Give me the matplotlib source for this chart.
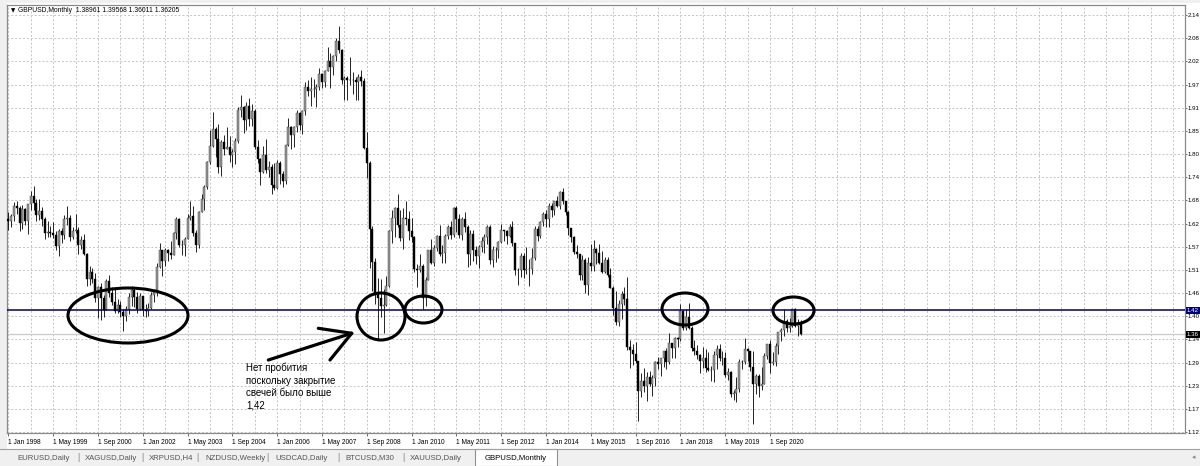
import numpy as np
import matplotlib.pyplot as plt
from matplotlib.patches import Ellipse, Rectangle
from matplotlib.lines import Line2D

plt.rcParams['font.family'] = ['Liberation Sans', 'DejaVu Sans']

# ---- GBPUSD monthly, Jan 1998 .. Aug 2021 (one row per year) ----
opens = [
    1.6440, 1.6390, 1.6500, 1.6760, 1.6700, 1.6340, 1.6690, 1.6390, 1.6800, 1.7000, 1.6830, 1.6530,
    1.6630, 1.6450, 1.6090, 1.6120, 1.6100, 1.6050, 1.5770, 1.6150, 1.6040, 1.6450, 1.6470, 1.5990,
    1.6150, 1.6170, 1.5800, 1.5930, 1.5590, 1.4980, 1.5150, 1.4960, 1.4510, 1.4770, 1.4500, 1.4210,
    1.4930, 1.4620, 1.4410, 1.4190, 1.4330, 1.4170, 1.4070, 1.4230, 1.4540, 1.4700, 1.4540, 1.4240,
    1.4550, 1.4200, 1.4180, 1.4250, 1.4580, 1.4650, 1.5270, 1.5670, 1.5420, 1.5690, 1.5610, 1.5550,
    1.6090, 1.6440, 1.5790, 1.5800, 1.5960, 1.6470, 1.6520, 1.6090, 1.5790, 1.6600, 1.6940, 1.7230,
    1.7840, 1.8220, 1.8650, 1.8390, 1.7700, 1.8330, 1.8150, 1.8200, 1.8000, 1.8080, 1.8340, 1.9100,
    1.9190, 1.8850, 1.9200, 1.8880, 1.9080, 1.8190, 1.7910, 1.7580, 1.8000, 1.7640, 1.7710, 1.7260,
    1.7200, 1.7800, 1.7540, 1.7360, 1.8240, 1.8700, 1.8490, 1.8680, 1.9040, 1.8730, 1.9090, 1.9660,
    1.9580, 1.9620, 1.9630, 1.9680, 1.9990, 1.9790, 2.0070, 2.0310, 2.0170, 2.0440, 2.0790, 2.0570,
    1.9850, 1.9880, 1.9850, 1.9840, 1.9850, 1.9790, 1.9910, 1.9820, 1.8170, 1.7810, 1.6200, 1.5380,
    1.4590, 1.4500, 1.4310, 1.4330, 1.4790, 1.6140, 1.6460, 1.6700, 1.6280, 1.5980, 1.6460, 1.6450,
    1.6150, 1.5990, 1.5220, 1.5180, 1.5290, 1.4500, 1.4950, 1.5690, 1.5350, 1.5730, 1.6030, 1.5590,
    1.5610, 1.6020, 1.6250, 1.6040, 1.6700, 1.6450, 1.6050, 1.6430, 1.6250, 1.5590, 1.6080, 1.5690,
    1.5540, 1.5760, 1.5910, 1.5990, 1.6240, 1.5430, 1.5680, 1.5680, 1.5870, 1.6160, 1.6140, 1.6020,
    1.6250, 1.5860, 1.5190, 1.5190, 1.5530, 1.5190, 1.5210, 1.5210, 1.5490, 1.6190, 1.6030, 1.6360,
    1.6560, 1.6440, 1.6750, 1.6670, 1.6880, 1.6750, 1.7110, 1.6880, 1.6600, 1.6210, 1.5990, 1.5640,
    1.5580, 1.5060, 1.5440, 1.4830, 1.5350, 1.5280, 1.5710, 1.5610, 1.5350, 1.5130, 1.5430, 1.5070,
    1.4740, 1.4250, 1.3920, 1.4370, 1.4610, 1.4490, 1.3310, 1.3240, 1.3130, 1.2970, 1.2240, 1.2480,
    1.2340, 1.2580, 1.2410, 1.2550, 1.2950, 1.2890, 1.3030, 1.3200, 1.2930, 1.3400, 1.3280, 1.3520,
    1.3510, 1.4190, 1.3770, 1.4030, 1.3770, 1.3290, 1.3200, 1.3120, 1.2960, 1.3030, 1.2780, 1.2750,
    1.2750, 1.3110, 1.3260, 1.3030, 1.3040, 1.2620, 1.2700, 1.2150, 1.2170, 1.2290, 1.2940, 1.2930,
    1.3250, 1.3200, 1.2820, 1.2410, 1.2590, 1.2350, 1.2410, 1.3090, 1.3370, 1.2920, 1.2950, 1.3340,
    1.3670, 1.3710, 1.3930, 1.3780, 1.3830, 1.4230, 1.3830, 1.38961,
]
highs = [
    1.6600, 1.6560, 1.6860, 1.6880, 1.6760, 1.6790, 1.6700, 1.6800, 1.7120, 1.7240, 1.6920, 1.6920,
    1.6720, 1.6490, 1.6400, 1.6270, 1.6370, 1.6140, 1.6190, 1.6210, 1.6530, 1.6760, 1.6530, 1.6250,
    1.6570, 1.6240, 1.6030, 1.6080, 1.5610, 1.5290, 1.5230, 1.5110, 1.4810, 1.4880, 1.4570, 1.4980,
    1.5080, 1.4770, 1.4780, 1.4470, 1.4420, 1.4240, 1.4320, 1.4620, 1.4800, 1.4780, 1.4660, 1.4620,
    1.4560, 1.4360, 1.4380, 1.4640, 1.4710, 1.5350, 1.5850, 1.5670, 1.5720, 1.5710, 1.5900, 1.6120,
    1.6480, 1.6460, 1.5920, 1.6010, 1.6550, 1.6880, 1.6760, 1.6180, 1.6640, 1.7060, 1.7270, 1.7850,
    1.8610, 1.9050, 1.8700, 1.8760, 1.8380, 1.8490, 1.8680, 1.8470, 1.8160, 1.8430, 1.9190, 1.9480,
    1.9200, 1.9310, 1.9390, 1.9260, 1.9130, 1.8370, 1.7940, 1.8230, 1.8400, 1.7870, 1.7790, 1.7800,
    1.7880, 1.7850, 1.7610, 1.8260, 1.8920, 1.8720, 1.8720, 1.9110, 1.9060, 1.9100, 1.9790, 1.9850,
    1.9920, 1.9870, 1.9740, 2.0130, 2.0010, 2.0090, 2.0660, 2.0490, 2.0460, 2.0880, 2.1160, 2.0600,
    1.9950, 1.9930, 2.0400, 2.0030, 1.9910, 1.9980, 2.0090, 1.9890, 1.8560, 1.7860, 1.6260, 1.5490,
    1.5000, 1.4980, 1.4720, 1.5050, 1.6160, 1.6660, 1.6740, 1.7040, 1.6660, 1.6700, 1.6880, 1.6640,
    1.6460, 1.6020, 1.5330, 1.5580, 1.5330, 1.5030, 1.5690, 1.5950, 1.5810, 1.6040, 1.6300, 1.5800,
    1.6060, 1.6280, 1.6400, 1.6740, 1.6750, 1.6550, 1.6480, 1.6620, 1.6300, 1.6170, 1.6170, 1.5780,
    1.5790, 1.5990, 1.6060, 1.6300, 1.6280, 1.5780, 1.5750, 1.5910, 1.6310, 1.6180, 1.6170, 1.6310,
    1.6380, 1.5860, 1.5230, 1.5600, 1.5600, 1.5750, 1.5450, 1.5720, 1.6260, 1.6260, 1.6380, 1.6600,
    1.6660, 1.6820, 1.6820, 1.6880, 1.7000, 1.7120, 1.7190, 1.6890, 1.6640, 1.6230, 1.6030, 1.5790,
    1.5590, 1.5550, 1.5480, 1.5500, 1.5820, 1.5930, 1.5720, 1.5820, 1.5660, 1.5510, 1.5510, 1.5240,
    1.4810, 1.4670, 1.4460, 1.4680, 1.4770, 1.5020, 1.3480, 1.3370, 1.3440, 1.2970, 1.2670, 1.2780,
    1.2700, 1.2710, 1.2620, 1.2960, 1.3050, 1.3030, 1.3210, 1.3270, 1.3660, 1.3400, 1.3540, 1.3550,
    1.4350, 1.4200, 1.4240, 1.4380, 1.3820, 1.3470, 1.3360, 1.3140, 1.3300, 1.3260, 1.3180, 1.2840,
    1.3220, 1.3350, 1.3380, 1.3200, 1.3180, 1.2780, 1.2710, 1.2250, 1.2580, 1.3010, 1.2990, 1.3520,
    1.3290, 1.3210, 1.3200, 1.2650, 1.2650, 1.2810, 1.3170, 1.3390, 1.3480, 1.3180, 1.3410, 1.3680,
    1.3760, 1.4240, 1.4000, 1.4010, 1.4230, 1.4250, 1.3980, 1.39568,
]
lows = [
    1.6180, 1.6250, 1.6400, 1.6570, 1.6140, 1.6200, 1.6280, 1.6080, 1.6650, 1.6670, 1.6380, 1.6420,
    1.6260, 1.5960, 1.6000, 1.5990, 1.5980, 1.5690, 1.5530, 1.5840, 1.5960, 1.6300, 1.5910, 1.5960,
    1.6090, 1.5590, 1.5700, 1.5560, 1.4800, 1.4820, 1.4880, 1.4400, 1.4010, 1.3960, 1.4050, 1.4200,
    1.4520, 1.4330, 1.4150, 1.4140, 1.4040, 1.3690, 1.3940, 1.4120, 1.4300, 1.4280, 1.4130, 1.4200,
    1.4060, 1.4050, 1.4060, 1.4230, 1.4410, 1.4550, 1.5250, 1.5050, 1.5280, 1.5400, 1.5470, 1.5560,
    1.5950, 1.5750, 1.5560, 1.5540, 1.5940, 1.6410, 1.6020, 1.5640, 1.5730, 1.6600, 1.6660, 1.7170,
    1.7780, 1.8210, 1.7960, 1.7560, 1.7500, 1.8000, 1.8140, 1.7840, 1.7720, 1.7780, 1.8290, 1.8940,
    1.8550, 1.8620, 1.8720, 1.8710, 1.8160, 1.7800, 1.7270, 1.7570, 1.7560, 1.7470, 1.7050, 1.7140,
    1.7170, 1.7300, 1.7210, 1.7300, 1.8230, 1.8140, 1.8200, 1.8580, 1.8610, 1.8520, 1.8990, 1.9450,
    1.9210, 1.9420, 1.9180, 1.9590, 1.9640, 1.9660, 2.0060, 1.9650, 1.9960, 2.0300, 2.0500, 1.9740,
    1.9350, 1.9360, 1.9710, 1.9500, 1.9360, 1.9340, 1.9690, 1.8160, 1.7430, 1.5250, 1.4670, 1.4370,
    1.3500, 1.4050, 1.3660, 1.4300, 1.4770, 1.5850, 1.5990, 1.6240, 1.5890, 1.5710, 1.6300, 1.5920,
    1.5880, 1.5150, 1.4780, 1.5150, 1.4230, 1.4320, 1.4950, 1.5340, 1.5290, 1.5650, 1.5540, 1.5350,
    1.5360, 1.5960, 1.5950, 1.5990, 1.6120, 1.5980, 1.5920, 1.6120, 1.5270, 1.5310, 1.5420, 1.5330,
    1.5230, 1.5630, 1.5600, 1.5820, 1.5330, 1.5270, 1.5390, 1.5490, 1.5850, 1.5910, 1.5830, 1.5990,
    1.5780, 1.5080, 1.4830, 1.5030, 1.5000, 1.5100, 1.4810, 1.5100, 1.5430, 1.5900, 1.5970, 1.6270,
    1.6250, 1.6250, 1.6480, 1.6530, 1.6730, 1.6690, 1.6810, 1.6540, 1.6050, 1.5870, 1.5590, 1.5480,
    1.4950, 1.4950, 1.4630, 1.4570, 1.5170, 1.5170, 1.5330, 1.5330, 1.5110, 1.5110, 1.5030, 1.4740,
    1.4080, 1.3840, 1.3830, 1.4000, 1.4340, 1.3230, 1.2800, 1.2870, 1.2920, 1.1500, 1.2080, 1.2200,
    1.1990, 1.2340, 1.2110, 1.2360, 1.2770, 1.2590, 1.2810, 1.2770, 1.2890, 1.3030, 1.3040, 1.3300,
    1.3460, 1.3710, 1.3710, 1.3750, 1.3200, 1.3100, 1.3020, 1.2660, 1.2790, 1.2700, 1.2720, 1.2480,
    1.2440, 1.2770, 1.2960, 1.2860, 1.2560, 1.2500, 1.2080, 1.2020, 1.1960, 1.2200, 1.2770, 1.2900,
    1.2960, 1.2730, 1.1410, 1.2160, 1.2080, 1.2250, 1.2400, 1.3010, 1.2680, 1.2860, 1.2850, 1.3130,
    1.3450, 1.3570, 1.3670, 1.3670, 1.3800, 1.3790, 1.3570, 1.36011,
]
closes = [
    1.6390, 1.6500, 1.6760, 1.6700, 1.6340, 1.6690, 1.6390, 1.6800, 1.7000, 1.6830, 1.6530, 1.6630,
    1.6450, 1.6090, 1.6120, 1.6100, 1.6050, 1.5770, 1.6150, 1.6040, 1.6450, 1.6470, 1.5990, 1.6150,
    1.6170, 1.5800, 1.5930, 1.5590, 1.4980, 1.5150, 1.4960, 1.4510, 1.4770, 1.4500, 1.4210, 1.4930,
    1.4620, 1.4410, 1.4190, 1.4330, 1.4170, 1.4070, 1.4230, 1.4540, 1.4700, 1.4540, 1.4240, 1.4550,
    1.4200, 1.4180, 1.4250, 1.4580, 1.4650, 1.5270, 1.5670, 1.5420, 1.5690, 1.5610, 1.5550, 1.6090,
    1.6440, 1.5790, 1.5800, 1.5960, 1.6470, 1.6520, 1.6090, 1.5790, 1.6600, 1.6940, 1.7230, 1.7840,
    1.8220, 1.8650, 1.8390, 1.7700, 1.8330, 1.8150, 1.8200, 1.8000, 1.8080, 1.8340, 1.9100, 1.9190,
    1.8850, 1.9200, 1.8880, 1.9080, 1.8190, 1.7910, 1.7580, 1.8000, 1.7640, 1.7710, 1.7260, 1.7200,
    1.7800, 1.7540, 1.7360, 1.8240, 1.8700, 1.8490, 1.8680, 1.9040, 1.8730, 1.9090, 1.9660, 1.9580,
    1.9620, 1.9630, 1.9680, 1.9990, 1.9790, 2.0070, 2.0310, 2.0170, 2.0440, 2.0790, 2.0570, 1.9850,
    1.9880, 1.9850, 1.9840, 1.9850, 1.9790, 1.9910, 1.9820, 1.8170, 1.7810, 1.6200, 1.5380, 1.4590,
    1.4500, 1.4310, 1.4330, 1.4790, 1.6140, 1.6460, 1.6700, 1.6280, 1.5980, 1.6460, 1.6450, 1.6150,
    1.5990, 1.5220, 1.5180, 1.5290, 1.4500, 1.4950, 1.5690, 1.5350, 1.5730, 1.6030, 1.5590, 1.5610,
    1.6020, 1.6250, 1.6040, 1.6700, 1.6450, 1.6050, 1.6430, 1.6250, 1.5590, 1.6080, 1.5690, 1.5540,
    1.5760, 1.5910, 1.5990, 1.6240, 1.5430, 1.5680, 1.5680, 1.5870, 1.6160, 1.6140, 1.6020, 1.6250,
    1.5860, 1.5190, 1.5190, 1.5530, 1.5190, 1.5210, 1.5210, 1.5490, 1.6190, 1.6030, 1.6360, 1.6560,
    1.6440, 1.6750, 1.6670, 1.6880, 1.6750, 1.7110, 1.6880, 1.6600, 1.6210, 1.5990, 1.5640, 1.5580,
    1.5060, 1.5440, 1.4830, 1.5350, 1.5280, 1.5710, 1.5610, 1.5350, 1.5130, 1.5430, 1.5070, 1.4740,
    1.4250, 1.3920, 1.4370, 1.4610, 1.4490, 1.3310, 1.3240, 1.3130, 1.2970, 1.2240, 1.2480, 1.2340,
    1.2580, 1.2410, 1.2550, 1.2950, 1.2890, 1.3030, 1.3200, 1.2930, 1.3400, 1.3280, 1.3520, 1.3510,
    1.4190, 1.3770, 1.4030, 1.3770, 1.3290, 1.3200, 1.3120, 1.2960, 1.3030, 1.2780, 1.2750, 1.2750,
    1.3110, 1.3260, 1.3030, 1.3040, 1.2620, 1.2700, 1.2150, 1.2170, 1.2290, 1.2940, 1.2930, 1.3250,
    1.3200, 1.2820, 1.2410, 1.2590, 1.2350, 1.2410, 1.3090, 1.3370, 1.2920, 1.2950, 1.3340, 1.3670,
    1.3710, 1.3930, 1.3780, 1.3830, 1.4230, 1.3830, 1.3900, 1.36205,
]

xtick_labels = ["1 Jan 1998", "1 May 1999", "1 Sep 2000", "1 Jan 2002", "1 May 2003", "1 Sep 2004",
                "1 Jan 2006", "1 May 2007", "1 Sep 2008", "1 Jan 2010", "1 May 2011", "1 Sep 2012",
                "1 Jan 2014", "1 May 2015", "1 Sep 2016", "1 Jan 2018", "1 May 2019", "1 Sep 2020"]
ytick_vals = [1.1225, 1.1792, 1.2359, 1.2926, 1.3493, 1.4060, 1.4627, 1.5194, 1.5761, 1.6328,
              1.6895, 1.7462, 1.8029, 1.8596, 1.9163, 1.9730, 2.0297, 2.0864, 2.1431]
ytick_labels = ["1.12", "1.17", "1.23", "1.29", "1.34", "1.40", "1.46", "1.51", "1.57", "1.62",
                "1.68", "1.74", "1.80", "1.85", "1.91", "1.97", "2.02", "2.08", "2.14"]
level = 1.42
bid = 1.36205
level_label = "1.42"
bid_label = "1.36"
title = "GBPUSD,Monthly  1.38961 1.39568 1.36011 1.36205"
note = "Нет пробития\nпоскольку закрытие\nсвечей было выше\n1,42"
tabs = ["EURUSD,Daily", "XAGUSD,Daily", "XRPUSD,H4", "NZDUSD,Weekly", "USDCAD,Daily",
        "BTCUSD,M30", "XAUUSD,Daily"]
active_tab = "GBPUSD,Monthly"

W, H = 1200, 466
def fx(x): return x / W
def fy(y): return 1 - y / H

fig = plt.figure(figsize=(12, 4.66), dpi=100, facecolor='#f0f0f0')
fig.add_artist(Rectangle((fx(7), fy(449)), fx(1193), 446 / H, transform=fig.transFigure,
                         facecolor='white', edgecolor='none', zorder=0))

ax = fig.add_axes([fx(7), fy(433), fx(1178), 428 / H])
o, h, l, c = (np.array(a) for a in (opens, highs, lows, closes))
x = np.arange(len(c))
up = c >= o
ax.vlines(x, l, h, color='black', lw=0.6, zorder=3)
ax.bar(x[up], c[up] - o[up], bottom=o[up], width=0.75, color='#9a9a9a',
       edgecolor='#333333', lw=0.3, zorder=4)
ax.bar(x[~up], o[~up] - c[~up], bottom=c[~up], width=0.75, color='black',
       edgecolor='black', lw=0.3, zorder=4)

ax.axhline(bid, color='#cccccc', lw=1.0, zorder=1)
ax.axhline(level, color='#000060', lw=1.1, zorder=5)

ax.set_xlim(-0.5, -0.5 + 1178 / 2.8)
ax.set_ylim(1.1201, 2.1676)
ax.set_xticks(np.arange(len(xtick_labels)) * 16)
ax.set_xticklabels(xtick_labels, ha='left', fontsize=4.8)
ax.set_xticks(np.arange(0, 421, 8), minor=True)
ax.set_yticks(ytick_vals)
ax.set_yticklabels(ytick_labels, fontsize=4.4)
ax.yaxis.tick_right()
ax.tick_params(axis='x', which='major', length=2.5, width=0.6, color='#555555', pad=1.5)
ax.tick_params(axis='y', which='major', length=1.6, width=0.6, color='#555555', pad=0.6)
ax.tick_params(axis='x', which='minor', length=0)
ax.grid(which='both', color='#c4c4c4', linestyle=(0, (2, 2)), linewidth=0.7)
ax.set_axisbelow(True)
for s in ax.spines.values():
    s.set_color('#8a8a8a')
    s.set_linewidth(0.9)

# price markers on the right scale
ytr = ax.get_yaxis_transform()
for val, lab, col in [(level, level_label, '#000080'), (bid, bid_label, 'black')]:
    ax.text(1.0 + 2.0 / 1178, val, lab, transform=ytr, ha='left', va='center', fontsize=4.4,
            color='white', bbox=dict(boxstyle='square,pad=0.15', fc=col, ec='none'),
            clip_on=False, zorder=6)

# title line
fig.text(fx(11), fy(11), "\u25bc", fontsize=4, family='DejaVu Sans', va='center')
fig.text(fx(18), fy(11), title, fontsize=4.9, va='center')

# hand-drawn marks
for cx, cy, w, hh in [(128, 315.5, 120, 55), (381, 316.5, 48, 47), (423.5, 309.5, 37, 27),
                      (685, 309, 46, 32), (793.5, 310.5, 41, 27)]:
    fig.add_artist(Ellipse((fx(cx), fy(cy)), w / W, hh / H, transform=fig.transFigure,
                           fill=False, ec='black', lw=2.2, zorder=10))
tip = (351.7, 333.3)
for tail in [(268.3, 360), (318.3, 328.3), (330, 360)]:
    fig.add_artist(Line2D([fx(tail[0]), fx(tip[0])], [fy(tail[1]), fy(tip[1])],
                          transform=fig.transFigure, color='black', lw=2.3,
                          solid_capstyle='round', zorder=10))
fig.text(fx(246), fy(363), note, fontsize=7, va='top', ha='left', linespacing=1.3, zorder=10)

# tab bar
fig.add_artist(Line2D([0, 1], [fy(449), fy(449)], transform=fig.transFigure, color='#a0a0a0', lw=0.8))
tab_x = [17, 85, 149, 205.5, 275, 345.5, 410]
sep_x = [77.7, 141.6, 196, 266, 336.8, 401.8]
for tx, name in zip(tab_x, tabs):
    fig.text(fx(tx), fy(458), name, fontsize=5.6, color='#555555', va='center')
for sx in sep_x:
    fig.text(fx(sx), fy(458), "|", fontsize=6.5, color='#888888', va='center')
fig.add_artist(Rectangle((fx(475), fy(466)), 82 / W, 17 / H, transform=fig.transFigure,
                         facecolor='white', edgecolor='#909090', lw=0.8))
fig.text(fx(485), fy(458), active_tab, fontsize=5.6, color='black', va='center')
fig.text(fx(1192), fy(457), "\u25c2", fontsize=5, family='DejaVu Sans', color='#888888', va='center')

fig.savefig("out.png", dpi=100, facecolor=fig.get_facecolor())
